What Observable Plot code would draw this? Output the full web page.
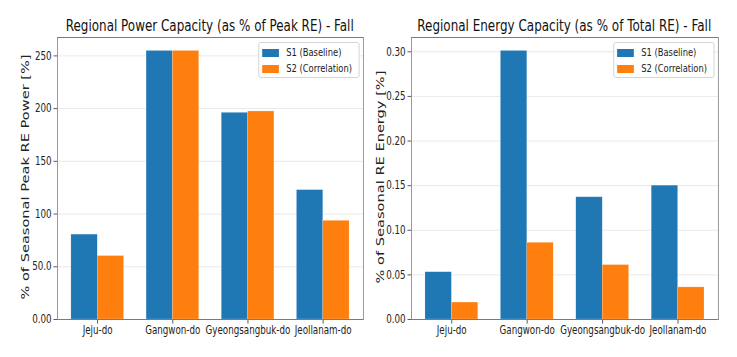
<!DOCTYPE html>
<html><head><meta charset="utf-8">
<script src="https://cdn.jsdelivr.net/npm/d3@7"></script>
<script src="https://cdn.jsdelivr.net/npm/@observablehq/plot@0.6"></script>
<style>
html,body{margin:0;background:#fff;overflow:hidden;}
#fig{position:relative;width:970px;height:357px;overflow:hidden;background:#fff;font-family:"DejaVu Sans",sans-serif;color:#222;transform:scaleX(0.76);transform-origin:0 0;}
.panel{position:absolute;top:32px;}
.title{position:absolute;top:17px;font-size:15.6px;color:#111;white-space:nowrap;line-height:19px;transform-origin:center center;}
.ylab{position:absolute;font-size:14.6px;color:#222;white-space:nowrap;transform:translate(-50%,-50%) rotate(-90deg);line-height:16px;}
.legend{position:absolute;border:1px solid #cfcfcf;border-radius:3px;background:rgba(255,255,255,0.85);font-size:11px;box-sizing:border-box;}
.legend .row{position:absolute;left:0;height:14px;white-space:nowrap;line-height:14px;}
.legend .sw{position:absolute;left:4px;top:3px;width:22px;height:8px;}
.legend .tx{position:absolute;left:36px;top:0;}
</style>
</head><body>
<div id="fig"></div>
<script>
const regions = ["Jeju-do", "Gangwon-do", "Gyeongsangbuk-do", "Jeollanam-do"];
const seriesNames = ["S1 (Baseline)", "S2 (Correlation)"];
const seriesColors = ["#1f77b4", "#ff7f0e"];
const powerS1 = [80.5, 254.7, 196.0, 122.7];
const powerS2 = [60.2, 254.7, 197.3, 93.6];
const energyS1 = [0.053, 0.301, 0.137, 0.150];
const energyS2 = [0.019, 0.086, 0.061, 0.036];
const powerTicks = [0, 50, 100, 150, 200, 250];
const powerTickLabels = ["0.00", "50.0", "100", "150", "200", "250"];
const energyTicks = [0, 0.05, 0.10, 0.15, 0.20, 0.25, 0.30];
const energyTickLabels = ["0.00", "0.05", "0.10", "0.15", "0.20", "0.25", "0.30"];
const titles = ["Regional Power Capacity (as % of Peak RE) - Fall", "Regional Energy Capacity (as % of Total RE) - Fall"];
const yLabels = ["% of Seasonal Peak RE Power [%]", "% of Seasonal RE Energy [%]"];

const BAR = 0.35;
function rows(s1, s2) {
  const out = [];
  regions.forEach((r, i) => {
    out.push({region: r, series: seriesNames[0], x1: i - BAR, x2: i, value: s1[i]});
    out.push({region: r, series: seriesNames[1], x1: i, x2: i + BAR, value: s2[i]});
  });
  return out;
}

const fig = document.getElementById("fig");

function panel(cfg) {
  const data = rows(cfg.s1, cfg.s2);
  const ymax = Math.max(...cfg.s1, ...cfg.s2) * 1.05;
  const chart = Plot.plot({
    width: cfg.width, height: 317,
    marginTop: 5, marginBottom: 30, marginLeft: cfg.ml, marginRight: cfg.mr,
    style: {fontFamily: '"DejaVu Sans",sans-serif', fontSize: "11.5px", color: "#222", background: "transparent"},
    x: {domain: [-0.535, 3.535], label: null},
    y: {domain: [0, ymax], label: null},
    color: {domain: seriesNames, range: seriesColors},
    marks: [
      Plot.gridY(cfg.ticks, {stroke: "#e6e6e6", strokeOpacity: 1}),
      Plot.rectY(data, {x1: "x1", x2: "x2", y: "value", fill: "series", stroke: "#ffffff", strokeOpacity: 0.35, strokeWidth: 0.6}),
      Plot.axisX(regions.map((_, i) => i), {tickFormat: i => regions[i], tickSize: 4.6, tickPadding: 2, label: null, stroke: "#444", fill: "#222"}),
      Plot.axisY(cfg.ticks, {tickFormat: d => cfg.tickLabels[cfg.ticks.indexOf(d)], tickSize: 4.6, tickPadding: 3, label: null, stroke: "#444", fill: "#222"}),
      Plot.frame({stroke: "#7a7a7a", strokeWidth: 1})
    ]
  });
  const wrap = document.createElement("div");
  wrap.className = "panel";
  wrap.style.left = cfg.left + "px";
  wrap.appendChild(chart);
  fig.appendChild(wrap);

  const t = document.createElement("div");
  t.className = "title";
  t.textContent = cfg.title;
  fig.appendChild(t);
  const w = t.offsetWidth;
  t.style.left = (cfg.titleCenter - w / 2) + "px";
  t.style.transform = `scaleX(${cfg.titleWidth / w})`;

  const yl = document.createElement("div");
  yl.className = "ylab";
  yl.textContent = cfg.ylabel;
  yl.style.left = cfg.ylx + "px";
  yl.style.top = "177px";
  fig.appendChild(yl);

  const lg = document.createElement("div");
  lg.className = "legend";
  lg.style.left = cfg.legLeft + "px";
  lg.style.top = "42px";
  lg.style.width = "133px";
  lg.style.height = "36px";
  seriesNames.forEach((n, k) => {
    const row = document.createElement("div");
    row.className = "row";
    row.style.top = (3 + k * 16) + "px";
    row.innerHTML = `<span class="sw" style="background:${seriesColors[k]}"></span><span class="tx">${n}</span>`;
    lg.appendChild(row);
  });
  fig.appendChild(lg);
}

panel({s1: powerS1, s2: powerS2, ticks: powerTicks, tickLabels: powerTickLabels, width: 484, left: 0, ml: 75, mr: 6.4,
  title: titles[0], titleCenter: 276.3, titleWidth: 379, ylabel: yLabels[0], ylx: 32.9, legLeft: 339.5});
panel({s1: energyS1, s2: energyS2, ticks: energyTicks, tickLabels: energyTickLabels, width: 486, left: 484, ml: 56.8, mr: 25.3,
  title: titles[1], titleCenter: 742, titleWidth: 387, ylabel: yLabels[1], ylx: 500, legLeft: 806.6});
</script>
</body></html>
